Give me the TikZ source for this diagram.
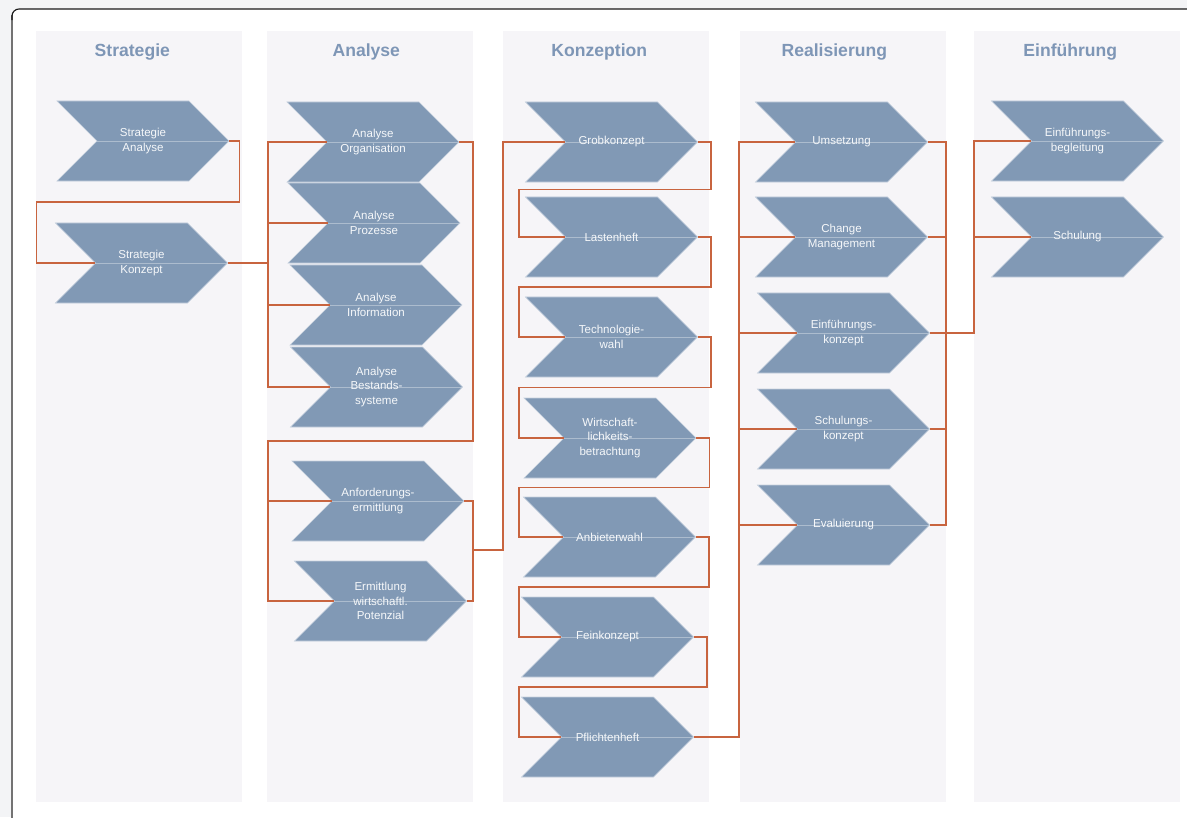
\documentclass[tikz,border=0pt]{standalone}
\usepackage{fontspec}
\setmainfont{Liberation Sans}
\usetikzlibrary{
    shapes.symbols,
    positioning,
    calc
}
\definecolor{pagebg}{HTML}{F3F4F6}
\definecolor{lanebg}{HTML}{F6F5F8}
\definecolor{stepfill}{HTML}{8199B5}
\definecolor{heading}{HTML}{7E96B6}
\definecolor{wire}{HTML}{C8643F}
\tikzset{
    % Swimlane background
    lane/.style={
        rectangle,
        fill=lanebg,
        draw=none,
        inner sep=0pt,
        anchor=north west,
        minimum width=5.15cm,
        minimum height=19.275cm
    },
    % Lane heading
    lane title/.style={
        font=\fontsize{12.5}{15}\selectfont\bfseries,
        text=heading
    },
    % Process chevron
    chevron/.style={
        signal,
        signal from=west,
        signal to=east,
        signal pointer angle=90,
        minimum width=4.3cm,
        minimum height=2cm,
        inner sep=0pt,
        align=center,
        font=\fontsize{8.2}{10.4}\selectfont,
        text=white!93!stepfill,
        fill=stepfill,
        draw=white!55!stepfill,
        line width=0.4pt,
        path picture={
            \draw[white, opacity=0.35, line width=0.5pt]
                (path picture bounding box.west) -- (path picture bounding box.east);
        }
    },
    % Connector line
    link/.style={
        draw=wire,
        line width=0.9pt
    }
}

\begin{document}
\begin{tikzpicture}[x=0.025cm, y=-0.025cm]

    \useasboundingbox (0,0) rectangle (1187,817);
    \fill[pagebg] (0,0) rectangle (1187,817);

    % Sheet
    \fill[white, rounded corners=5] (12,9) rectangle (1200,830);
    \draw[black!55, line width=1.1pt] (12,830) -- (12,15);
    \draw[black!90, line width=0.8pt, rounded corners=5] (12,20) -- (12,9) -- (1200,9);

    % Lanes
    \node[lane] (laneS) at (36,31) {};
    \node[lane] (laneA) at (267,31) {};
    \node[lane] (laneK) at (503,31) {};
    \node[lane] (laneR) at (740,31) {};
    \node[lane] (laneE) at (974,31) {};

    \node[lane title] (titleS) at ($(laneS.north)+(-7,21)$) {Strategie};
    \node[lane title] (titleA) at ($(laneA.north)+(-4,21)$) {Analyse};
    \node[lane title] (titleK) at ($(laneK.north)+(-7,21)$) {Konzeption};
    \node[lane title] (titleR) at ($(laneR.north)+(-9,21)$) {Realisierung};
    \node[lane title] (titleE) at ($(laneE.north)+(-7,21)$) {Einführung};

    % Strategie
    \node[chevron] (stratAna) at (143,141) {Strategie\\Analyse};
    \node[chevron] (stratKon) at (141.5,263) {Strategie\\Konzept};

    % Analyse
    \node[chevron] (anaOrg) at (373,142) {Analyse\\Organisation};
    \node[chevron] (anaProz) at (374,223) {Analyse\\Prozesse};
    \node[chevron] (anaInfo) at (376,305) {Analyse\\Information};
    \node[chevron] (anaBest) at (376.5,387) {Analyse\\Bestands-\\systeme};
    \node[chevron] (anfErm) at (378,501) {Anforderungs-\\ermittlung};
    \node[chevron] (ermPot) at (380.5,601) {Ermittlung\\wirtschaftl.\\Potenzial};

    % Konzeption
    \node[chevron] (grob) at (611.5,142) {Grobkonzept};
    \node[chevron] (lasten) at (611.5,237) {Lastenheft};
    \node[chevron] (techWahl) at (611.5,337) {Technologie-\\wahl};
    \node[chevron] (wirt) at (610,438) {Wirtschaft-\\lichkeits-\\betrachtung};
    \node[chevron] (anbieter) at (609.5,537) {Anbieterwahl};
    \node[chevron] (fein) at (607.5,637) {Feinkonzept};
    \node[chevron] (pflicht) at (607.5,737) {Pflichtenheft};

    % Realisierung
    \node[chevron] (umsetz) at (841.5,142) {Umsetzung};
    \node[chevron] (change) at (841.5,237) {Change\\Management};
    \node[chevron] (einfKonz) at (843.5,333) {Einführungs-\\konzept};
    \node[chevron] (schulKonz) at (843.5,429) {Schulungs-\\konzept};
    \node[chevron] (evaluier) at (843.5,525) {Evaluierung};

    % Einführung
    \node[chevron] (einfBegl) at (1077.5,141) {Einführungs-\\begleitung};
    \node[chevron] (schulung) at (1077.5,237) {Schulung};

    % Bus lines
    \coordinate (busA) at (268,0);
    \coordinate (busB) at (473,0);
    \coordinate (busC) at (503,0);
    \coordinate (busK) at (519,0);
    \coordinate (busR) at (739,0);
    \coordinate (busS) at (946,0);
    \coordinate (busE) at (974,0);
    \coordinate (anaTurn) at (473,441);
    \coordinate (anaOut) at (473,550);

    % Strategie -> Analyse
    \draw[link] (stratAna.east) -- ++(10,0) |- ++(-203,61) |- (stratKon.west);
    \draw[link] (stratKon.east) -- (stratKon.east -| busA);
    \draw[link] (anaOrg.west) -| (busA |- anaBest.west) -- (anaBest.west);
    \foreach \n in {anaProz, anaInfo}
        \draw[link] (\n.west) -- (\n.west -| busA);

    % Analyse -> Anforderungen
    \draw[link] (anaOrg.east) -| (anaTurn) -| (busA |- ermPot.west) -- (ermPot.west);
    \draw[link] (anfErm.west) -- (anfErm.west -| busA);
    \draw[link] (anfErm.east) -| (busB |- ermPot.east) -- (ermPot.east);

    % Analyse -> Konzeption
    \draw[link] (anaOut) -| (busC |- grob.west) -- (grob.west);
    \foreach \p/\q in {grob/lasten, lasten/techWahl, techWahl/wirt, wirt/anbieter, anbieter/fein, fein/pflicht}
        \draw[link] (\p.east) -- ++(13,0) |- ($(\p.south)!0.5!(\q.north)$) -| (busK |- \q.west) -- (\q.west);

    % Konzeption -> Realisierung
    \draw[link] (pflicht.east) -| (busR |- umsetz.west) -- (umsetz.west);
    \foreach \n in {change, einfKonz, schulKonz, evaluier}
        \draw[link] (\n.west) -- (\n.west -| busR);
    \draw[link] (umsetz.east) -| (busS |- evaluier.east) -- (evaluier.east);
    \foreach \n in {change, schulKonz}
        \draw[link] (\n.east) -- (\n.east -| busS);

    % Realisierung -> Einführung
    \draw[link] (einfKonz.east) -| (busE |- einfBegl.west) -- (einfBegl.west);
    \draw[link] (schulung.west) -- (schulung.west -| busE);

\end{tikzpicture}
\end{document}
